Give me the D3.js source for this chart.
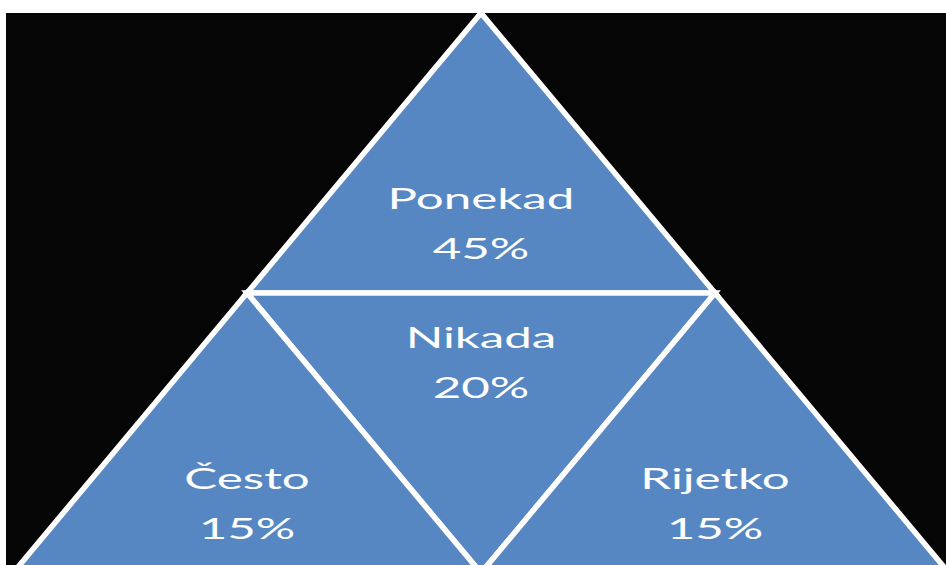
<!DOCTYPE html>
<html lang="hr">
<head>
    <meta charset="UTF-8">
    <title>Piramida</title>
    <style>
        body { margin: 0; background: #fff; }
        .seg {
            fill: #5687c2;
            stroke: #fff;
            stroke-width: 5.5;
            stroke-linejoin: miter;
        }
        .lbl {
            fill: #fff;
            font-family: Lato, "Open Sans", sans-serif;
            font-size: 29px;
            text-anchor: middle;
        }
    </style>
</head>
<body>
    <svg></svg>
</body>
<script src="https://d3js.org/d3.v7.min.js"></script>
<script>
    var categories = ["Ponekad", "Nikada", "Često", "Rijetko"];
    var values = [45, 20, 15, 15];
    // which cell of the pyramid each category sits in (row, column)
    var cells = [[0, 0], [1, 1], [1, 0], [1, 2]];

    var width = 946;
    var height = 565;

    var svg = d3.select("svg")
        .attr("width", width)
        .attr("height", height);

    // white strip top and left, black field behind
    svg.append("rect").attr("width", width).attr("height", height).attr("fill", "#fff");
    svg.append("rect").attr("x", 6).attr("y", 13)
        .attr("width", width - 6).attr("height", height - 13).attr("fill", "#050505");

    // unit triangle -> pixels
    var x = d3.scaleLinear().domain([0, 1]).range([13, 949]);
    var y = d3.scaleLinear().domain([0, 1]).range([13, 573]);

    // row r of 2, column c: even columns point up, odd point down
    function corners(r, c) {
        var rows = 2, h = 1 / rows;
        var top = r * h, bot = (r + 1) * h;
        var left = 0.5 - (r + 1) * h / 2 + c * h / 2;
        if (c % 2 === 0) {
            return [[left + h / 2, top], [left, bot], [left + h, bot]];
        } else {
            return [[left, top], [left + h, top], [left + h / 2, bot]];
        }
    }

    var data = categories.map(function (name, i) {
        var cell = cells[i];
        var pts = corners(cell[0], cell[1]);
        var up = cell[1] % 2 === 0;
        var ys = pts.map(function (p) { return p[1]; });
        var t = d3.min(ys), b = d3.max(ys);
        return {
            name: name,
            value: values[i],
            pts: pts,
            cx: d3.mean(pts, function (p) { return p[0]; }),
            cy: up ? t + (b - t) * 0.755 : t + (b - t) * 0.25
        };
    });

    var line = d3.line()
        .x(function (p) { return x(p[0]); })
        .y(function (p) { return y(p[1]); })
        .curve(d3.curveLinearClosed);

    svg.selectAll(".seg")
        .data(data)
        .enter()
        .append("path")
        .attr("class", "seg")
        .attr("d", function (d) { return line(d.pts); });

    // the labels in the original are stretched wide
    var lbl = svg.selectAll(".lbl")
        .data(data)
        .enter()
        .append("g")
        .attr("transform", function (d) {
            return "translate(" + x(d.cx) + "," + y(d.cy) + ") scale(1.7,1)";
        })
        .append("text")
        .attr("class", "lbl");

    lbl.append("tspan")
        .attr("x", 0)
        .attr("y", -15)
        .text(function (d) { return d.name; });

    lbl.append("tspan")
        .attr("x", 0)
        .attr("y", 35)
        .text(function (d) { return d.value + "%"; });
</script>
</html>
